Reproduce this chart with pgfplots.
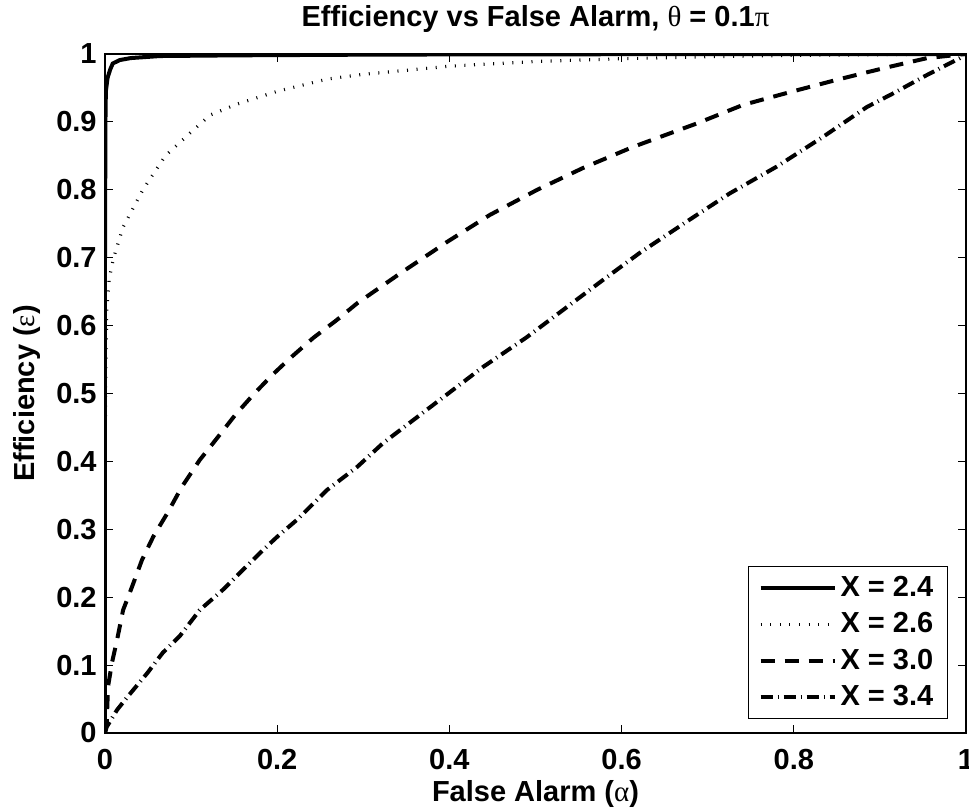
\documentclass[border=0pt]{standalone}
\usepackage{fontspec}
\setmainfont{Liberation Sans}
\newfontfamily\greek{Liberation Serif}
\usepackage{pgfplots}
\pgfplotsset{compat=1.18}
\newcommand\lbl{\fontsize{14.5}{17}\selectfont\bfseries}
\begin{document}
\begin{tikzpicture}
\begin{axis}[
  at={(0,0)}, anchor=south west,
  scale only axis, width=430.5pt, height=339.5pt,
  xmin=0, xmax=1, ymin=0, ymax=1,
  xtick={0,0.2,0.4,0.6,0.8,1},
  xticklabels={0,0.2,0.4,0.6,0.8,1},
  ytick={0,0.1,0.2,0.3,0.4,0.5,0.6,0.7,0.8,0.9,1},
  yticklabels={0,0.1,0.2,0.3,0.4,0.5,0.6,0.7,0.8,0.9,1},
  tick align=inside, major tick length=4pt,
  tick style={line width=0.5pt, black},
  axis line style={line width=1pt},
  /pgf/number format/assume math mode=true,
  tick label style={font=\lbl},
  xticklabel style={anchor=north, inner sep=0pt, yshift=-8pt},
  yticklabel style={anchor=east, inner sep=0pt, xshift=-4pt},
  every axis title shift=0pt,
  title={Efficiency vs False Alarm, {\greek\mdseries θ} = 0.1{\greek\mdseries π}},
  title style={at={(axis description cs:0.5,1.0412)}, anchor=base, inner sep=0pt, font=\lbl},
  xlabel={False Alarm ({\greek\mdseries α})},
  xlabel style={at={(axis description cs:0.5,-0.1016)}, anchor=base, inner sep=0pt, font=\lbl},
  ylabel={Efficiency ({\greek\mdseries ε})},
  ylabel style={at={(axis description cs:-0.0906,0.5)}, rotate=0, anchor=center, font=\lbl},
  legend cell align=left,
  legend style={at={(axis description cs:0.979,0.0206)}, anchor=south east,
    draw=black, line width=0.6pt, font=\lbl, inner xsep=5pt, inner ysep=3pt,
    row sep=2.5pt, nodes={inner sep=2pt}},
  legend image code/.code={\draw[#1] (0pt,0pt) -- (37pt,0pt);},
]
\addplot[black, line width=2pt] coordinates {
(0,0) (0,0.7) (0.0005,0.90) (0.001,0.945) (0.003,0.965) (0.006,0.977) (0.009,0.986)
(0.017,0.991) (0.03,0.994) (0.064,0.997) (0.15,0.998) (0.3,0.999) (0.45,0.9995) (1,1)};
\addlegendentry{X = 2.4}
\addplot[black, line width=1.6pt, dash pattern=on 0.5pt off 4.3pt] coordinates {
(0,0) (0.0005,0.5) (0.002,0.62) (0.005,0.67) (0.01,0.70) (0.021,0.745) (0.044,0.80)
(0.07,0.85) (0.1,0.885) (0.122,0.91) (0.153,0.926) (0.2,0.945) (0.258,0.963) (0.3,0.97)
(0.4,0.982) (0.5,0.989) (0.6,0.993) (0.7,0.996) (0.8,0.998) (0.9,0.999) (1,1)};
\addlegendentry{X = 2.6}
\addplot[black, line width=2pt, dash pattern=on 7pt off 5pt] coordinates {
(0,0) (0.002,0.015) (0.0035,0.068) (0.008,0.103) (0.014,0.137) (0.021,0.181) (0.031,0.214)
(0.043,0.255) (0.056,0.289) (0.073,0.325) (0.089,0.362) (0.110,0.402) (0.130,0.434)
(0.151,0.468) (0.172,0.498) (0.194,0.527) (0.215,0.552) (0.242,0.582) (0.269,0.608)
(0.293,0.633) (0.343,0.677) (0.397,0.723) (0.447,0.763) (0.502,0.800) (0.555,0.832)
(0.613,0.863) (0.688,0.898) (0.741,0.925) (0.796,0.944) (0.85,0.962) (0.904,0.979)
(0.955,0.994) (1,1)};
\addlegendentry{X = 3.0}
\addplot[black, line width=2pt, dash pattern=on 6pt off 2.5pt on 0.5pt off 2.5pt] coordinates {
(0,0) (0.002,0.009) (0.014,0.034) (0.026,0.053) (0.049,0.088) (0.067,0.118) (0.087,0.143)
(0.11,0.181) (0.137,0.211) (0.16,0.240) (0.184,0.270) (0.2,0.289) (0.223,0.314)
(0.258,0.358) (0.293,0.392) (0.323,0.427) (0.381,0.483) (0.439,0.539) (0.49,0.583)
(0.532,0.623) (0.575,0.664) (0.621,0.707) (0.679,0.756) (0.726,0.795) (0.78,0.834)
(0.834,0.878) (0.885,0.922) (0.917,0.943) (0.95,0.966) (0.993,0.994) (1,1)};
\addlegendentry{X = 3.4}
\end{axis}
\pgfresetboundingbox
\path[use as bounding box] (-52.5pt,-39.5pt) rectangle (432pt,366.5pt);
\end{tikzpicture}
\end{document}
